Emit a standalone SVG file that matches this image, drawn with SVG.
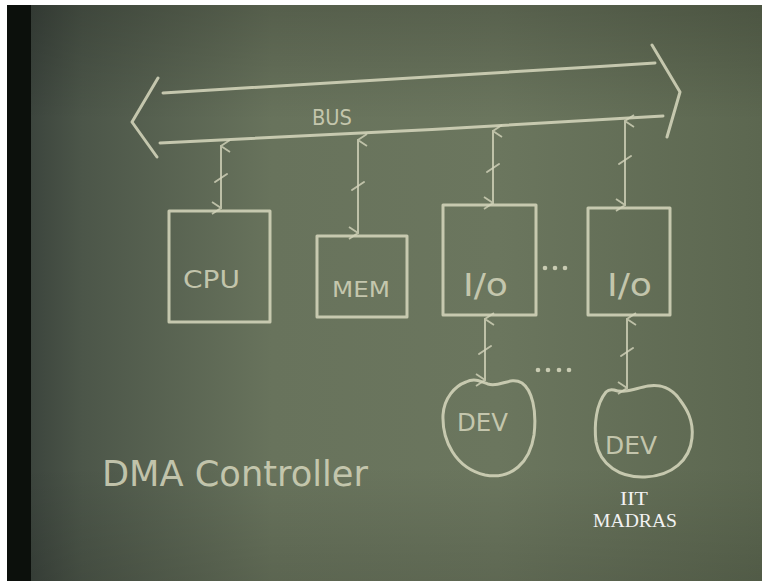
<svg xmlns="http://www.w3.org/2000/svg" width="762" height="581" viewBox="0 0 762 581">
<defs>
<linearGradient id="board" x1="0" y1="0" x2="1" y2="0">
<stop offset="0" stop-color="#353d38"/>
<stop offset="0.1" stop-color="#4c5649"/>
<stop offset="0.35" stop-color="#68735c"/>
<stop offset="0.65" stop-color="#6b765e"/>
<stop offset="1" stop-color="#5c6750"/>
</linearGradient>
<linearGradient id="shade" x1="0" y1="0" x2="0" y2="1">
<stop offset="0" stop-color="#000" stop-opacity="0.18"/>
<stop offset="0.2" stop-color="#000" stop-opacity="0"/>
<stop offset="0.8" stop-color="#000" stop-opacity="0"/>
<stop offset="1" stop-color="#000" stop-opacity="0.12"/>
</linearGradient>
<marker id="ah" viewBox="0 0 14 14" refX="7" refY="1" markerWidth="14" markerHeight="14" markerUnits="userSpaceOnUse" orient="auto-start-reverse">
<path d="M1,10 L7,1 L13,10" fill="none" stroke="#d4d5bb" stroke-width="1.8"/>
</marker>
</defs>
<style>
.chalk{fill:none;stroke:#d4d5bb;stroke-width:3;stroke-linecap:round;stroke-linejoin:round;opacity:0.88}
.conn{fill:none;stroke:#d4d5bb;stroke-width:2;stroke-linecap:round;opacity:0.8}
.lbl{font-family:"DejaVu Sans",sans-serif;fill:#d4d5bb;opacity:0.85}
.dot{fill:#d4d5bb;opacity:0.9}
</style>
<rect width="762" height="581" fill="#ffffff"/>
<rect x="7" y="5" width="755" height="576" fill="url(#board)"/>
<rect x="7" y="5" width="755" height="576" fill="url(#shade)"/>
<rect x="7" y="5" width="24" height="576" fill="#0c100c"/>

<g id="bus">
<path class="chalk" d="M163,93 C300,86 480,74 655,63 M158,78 L132,122 L157,157 M160,143 C320,136 500,126 663,116 M652,45 L680,92 L667,137"/>
<text class="lbl" x="312" y="125" font-size="22" textLength="40" lengthAdjust="spacingAndGlyphs">BUS</text>
</g>

<g id="cpu">
<rect class="chalk" x="169" y="211" width="101" height="111"/>
<text class="lbl" x="183" y="288" font-size="25" textLength="57" lengthAdjust="spacingAndGlyphs">CPU</text>
</g>
<g id="mem">
<rect class="chalk" x="317" y="236" width="90" height="81"/>
<text class="lbl" x="332" y="297" font-size="22" textLength="58" lengthAdjust="spacingAndGlyphs">MEM</text>
</g>
<g id="io1">
<rect class="chalk" x="443" y="205" width="93" height="110"/>
<text class="lbl" x="463" y="296" font-size="32" textLength="45" lengthAdjust="spacingAndGlyphs">I/o</text>
</g>
<g id="io2">
<rect class="chalk" x="588" y="208" width="82" height="107"/>
<text class="lbl" x="607" y="296" font-size="32" textLength="45" lengthAdjust="spacingAndGlyphs">I/o</text>
</g>
<g id="dots1">
<circle class="dot" cx="545" cy="268" r="2.3"/>
<circle class="dot" cx="555" cy="268" r="2.3"/>
<circle class="dot" cx="565" cy="268" r="2.3"/>
</g>
<g id="dev1">
<path class="chalk" d="M466,382 C455,386 444,398 443,415 C442,440 455,468 485,475 C512,480 530,462 534,435 C537,410 532,390 522,383 C510,376 500,388 488,384 C480,381 474,378 466,382 Z"/>
<text class="lbl" x="457" y="431" font-size="24" textLength="51" lengthAdjust="spacingAndGlyphs">DEV</text>
</g>
<g id="dots2">
<circle class="dot" cx="538" cy="370" r="2.3"/>
<circle class="dot" cx="548" cy="370" r="2.3"/>
<circle class="dot" cx="559" cy="370" r="2.3"/>
<circle class="dot" cx="569" cy="370" r="2.3"/>
</g>
<g id="dev2">
<path class="chalk" d="M606,392 C596,404 594,425 596,442 C600,465 620,478 645,477 C672,476 690,460 692,438 C694,420 686,408 680,400 C672,388 660,384 648,386 C636,388 624,394 614,390 C610,389 608,390 606,392 Z"/>
<text class="lbl" x="605" y="454" font-size="24" textLength="52" lengthAdjust="spacingAndGlyphs">DEV</text>
</g>

<g id="connectors">
<path class="conn" d="M221,146 L221,208" marker-start="url(#ah)" marker-end="url(#ah)"/>
<path class="conn" d="M215,182 L227,174"/>
<path class="conn" d="M358,140 L358,233" marker-start="url(#ah)" marker-end="url(#ah)"/>
<path class="conn" d="M352,190 L364,182"/>
<path class="conn" d="M493,131 L493,203" marker-start="url(#ah)" marker-end="url(#ah)"/>
<path class="conn" d="M487,172 L499,164"/>
<path class="conn" d="M625,121 L625,205" marker-start="url(#ah)" marker-end="url(#ah)"/>
<path class="conn" d="M619,164 L631,156"/>
<path class="conn" d="M485,319 L485,380" marker-start="url(#ah)" marker-end="url(#ah)"/>
<path class="conn" d="M479,354 L491,346"/>
<path class="conn" d="M627,319 L627,388" marker-start="url(#ah)" marker-end="url(#ah)"/>
<path class="conn" d="M621,356 L633,348"/>
</g>

<text class="lbl" x="102" y="486" font-size="36" opacity="0.7" textLength="266" lengthAdjust="spacingAndGlyphs">DMA Controller</text>

<g id="logo">
<text x="634" y="505" font-family="'Liberation Serif',serif" font-size="19" fill="#f2f2f2" text-anchor="middle" textLength="28" lengthAdjust="spacingAndGlyphs">IIT</text>
<text x="635" y="527" font-family="'Liberation Serif',serif" font-size="19" fill="#f2f2f2" text-anchor="middle" textLength="84" lengthAdjust="spacingAndGlyphs">MADRAS</text>
</g>
</svg>
